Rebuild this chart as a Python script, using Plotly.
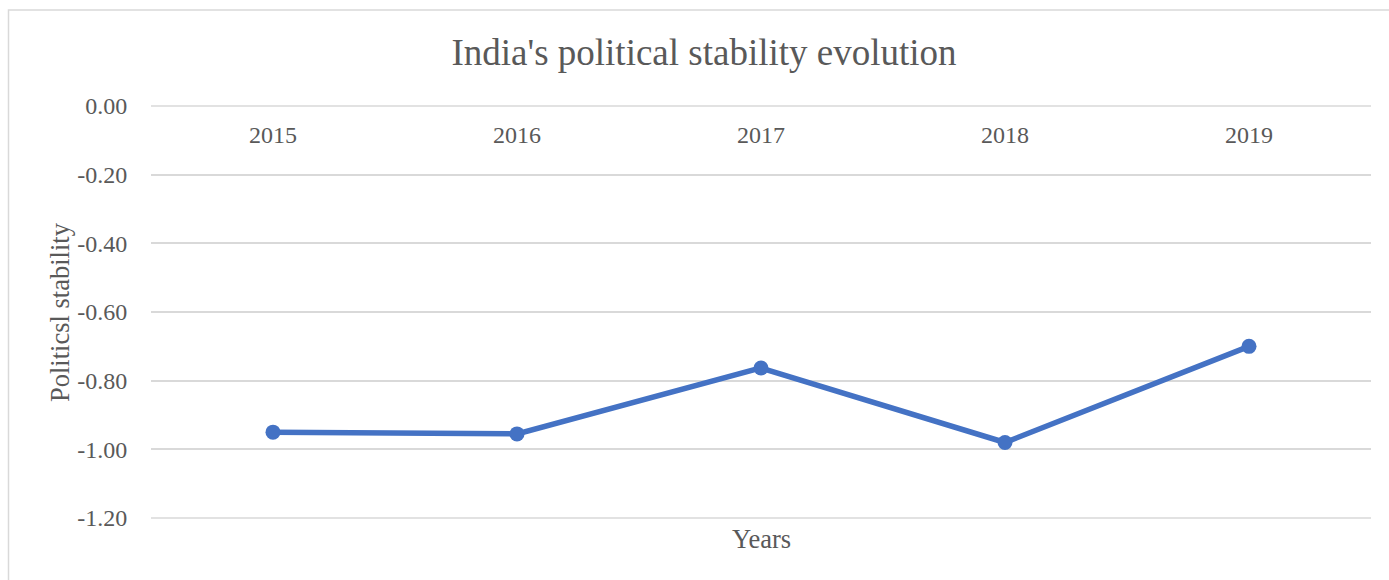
import plotly.graph_objects as go

# Political stability index for India, by year
years = ["2015", "2016", "2017", "2018", "2019"]
stability = [-0.95, -0.955, -0.763, -0.98, -0.70]
y_ticks = [0.0, -0.2, -0.4, -0.6, -0.8, -1.0, -1.2]
y_tick_labels = ["0.00", "-0.20", "-0.40", "-0.60", "-0.80", "-1.00", "-1.20"]

TEXT = "#595959"
GRID = "#D9D9D9"
BLUE = "#4472C4"
FONT = "Liberation Serif, Times New Roman, serif"

fig = go.Figure(
    go.Scatter(
        x=years,
        y=stability,
        mode="lines+markers",
        line=dict(color=BLUE, width=5.5),
        marker=dict(color=BLUE, size=15),
        showlegend=False,
        hoverinfo="x+y",
    )
)

W, H = 1389, 580
L, R, T, B = 151, 18, 106, 62
pw, ph = W - L - R, H - T - B


def px_x(p):
    return (p - L) / pw


def px_y(p):
    return (H - B - p) / ph


# the value range spans the full plot height, so its top (0.00) and bottom
# (-1.20) gridlines lie on the plot edges and are drawn as unclipped lines
edge_grid = [
    dict(
        type="line",
        xref="paper",
        yref="paper",
        x0=0,
        x1=1,
        y0=edge,
        y1=edge,
        line=dict(color=GRID, width=1.5),
        layer="below",
    )
    for edge in (0, 1)
]

fig.update_layout(
    width=W,
    height=H,
    margin=dict(l=L, r=R, t=T, b=B, pad=0),
    paper_bgcolor="white",
    plot_bgcolor="white",
    font=dict(family=FONT, color=TEXT),
    title=dict(
        text="India's political stability evolution",
        x=704 / W,
        xanchor="center",
        y=1 - 52 / H,
        yanchor="middle",
        font=dict(size=37, color=TEXT, family=FONT),
    ),
    xaxis=dict(
        type="category",
        range=[-0.5, 4.5],
        anchor="free",
        position=1,
        side="bottom",
        showgrid=False,
        showline=False,
        zeroline=False,
        ticks="outside",
        ticklen=7,
        tickcolor="rgba(0,0,0,0)",
        tickfont=dict(size=24, color=TEXT, family=FONT),
    ),
    yaxis=dict(
        range=[y_ticks[-1], y_ticks[0]],
        tickvals=y_ticks,
        ticktext=y_tick_labels,
        showgrid=True,
        gridcolor=GRID,
        gridwidth=1.5,
        zeroline=False,
        showline=False,
        ticks="outside",
        ticklen=18,
        tickcolor="rgba(0,0,0,0)",
        tickfont=dict(size=24, color=TEXT, family=FONT),
    ),
    annotations=[
        dict(
            text="Years",
            xref="paper",
            yref="paper",
            x=px_x(761),
            y=px_y(539),
            xanchor="center",
            yanchor="middle",
            showarrow=False,
            font=dict(size=26.5, color=TEXT, family=FONT),
        ),
        dict(
            text="Politicsl stability",
            xref="paper",
            yref="paper",
            x=px_x(60),
            y=px_y(312),
            xanchor="center",
            yanchor="middle",
            textangle=-90,
            showarrow=False,
            font=dict(size=26.5, color=TEXT, family=FONT),
        ),
    ],
    shapes=[
        dict(
            type="rect",
            xref="paper",
            yref="paper",
            x0=px_x(8.5),
            x1=px_x(1400),
            y0=px_y(600),
            y1=px_y(10),
            line=dict(color=GRID, width=1.5),
            fillcolor="rgba(0,0,0,0)",
            layer="below",
        )
    ]
    + edge_grid,
)

fig.write_html("out.html")
